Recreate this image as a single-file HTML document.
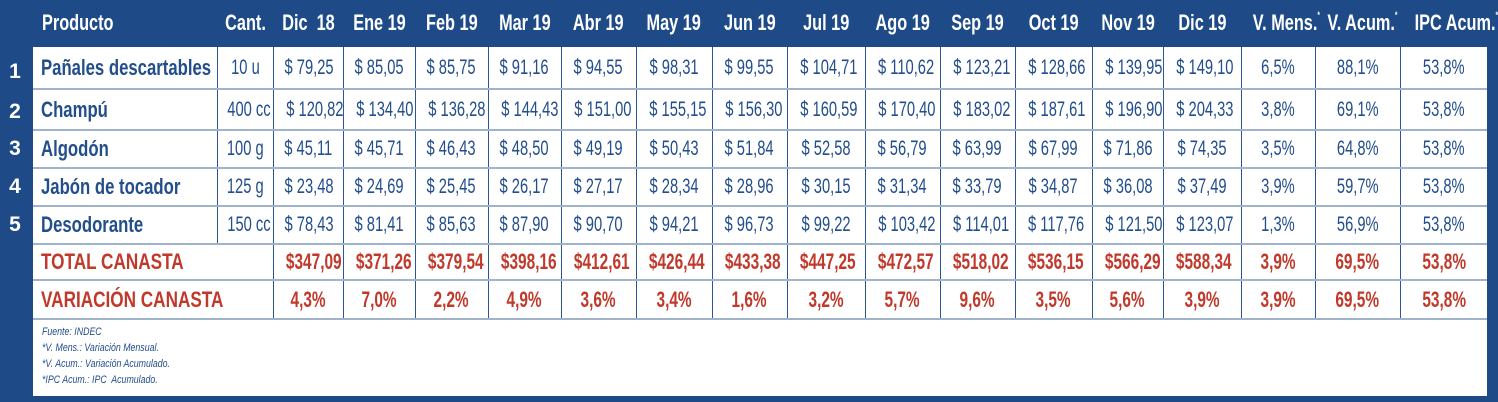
<!DOCTYPE html>
<html><head><meta charset="utf-8"><style>
*{margin:0;padding:0;box-sizing:border-box}
body{width:1498px;height:402px;background:#1e4b87;position:relative;overflow:hidden;font-family:"Liberation Sans",sans-serif}
span{display:inline-block;transform:scaleX(0.7);transform-origin:center;white-space:nowrap}
.hd{position:absolute;top:9px;height:28px;line-height:28px;color:#fff;font-weight:bold;font-size:22px;text-align:center;white-space:nowrap}
.hd span{transform:scaleX(0.74)}
.hd sup{font-size:9px;vertical-align:top;line-height:12px}
.num{position:absolute;left:0;width:30px;text-align:center;color:#fff;font-weight:bold;font-size:21px}
.white{position:absolute;left:33px;top:47px;width:1454px;height:349px;background:#fff}
table{position:absolute;left:33px;top:47px;width:1454px;border-collapse:collapse;table-layout:fixed}
td{border-left:1px solid #2a5796;border-right:1px solid #2a5796;border-bottom:2px solid #9fb3cc;text-align:center;color:#234e8c;font-size:21px;white-space:nowrap;overflow:visible;padding:0}
td.p{text-align:left;padding-left:8px;font-weight:bold;border-left:none;font-size:22px}
td.p span{transform:scaleX(0.76);transform-origin:left center}
tr.r td{color:#c0392b;font-weight:bold;font-size:22px}
tr.r td.p span{transform:scaleX(0.78)}
td.last{border-right:none}
.foot{position:absolute;left:42px;top:324px;color:#234e8c;font-style:italic;font-size:11px;line-height:16px}
.foot span{transform:scaleX(0.8);transform-origin:left center}
</style></head><body>
<div class="white"></div>
<div class="hd" style="left:42px"><span style="transform-origin:left center">Producto</span></div>
<div class="hd" style="left:217px;width:56px"><span>Cant.</span></div>
<div class="hd" style="left:273px;width:70px"><span>Dic&nbsp; 18</span></div>
<div class="hd" style="left:343px;width:72px"><span>Ene 19</span></div>
<div class="hd" style="left:415px;width:73px"><span>Feb 19</span></div>
<div class="hd" style="left:488px;width:73px"><span>Mar 19</span></div>
<div class="hd" style="left:561px;width:75px"><span>Abr 19</span></div>
<div class="hd" style="left:636px;width:76px"><span>May 19</span></div>
<div class="hd" style="left:712px;width:75px"><span>Jun 19</span></div>
<div class="hd" style="left:787px;width:78px"><span>Jul 19</span></div>
<div class="hd" style="left:865px;width:75px"><span>Ago 19</span></div>
<div class="hd" style="left:940px;width:75px"><span>Sep 19</span></div>
<div class="hd" style="left:1015px;width:77px"><span>Oct 19</span></div>
<div class="hd" style="left:1092px;width:71px"><span>Nov 19</span></div>
<div class="hd" style="left:1163px;width:78px"><span>Dic 19</span></div>
<div class="hd" style="left:1241px;width:74px"><span>V. Mens.<sup>*</sup></span></div>
<div class="hd" style="left:1315px;width:85px"><span>V. Acum.<sup>*</sup></span></div>
<div class="hd" style="left:1400px;width:87px"><span>IPC Acum.<sup>*</sup></span></div>
<div class="num" style="top:60px">1</div>
<div class="num" style="top:100px">2</div>
<div class="num" style="top:137px">3</div>
<div class="num" style="top:175px">4</div>
<div class="num" style="top:213px">5</div>
<table>
<colgroup><col style="width:184px"><col style="width:56px"><col style="width:70px"><col style="width:72px"><col style="width:73px"><col style="width:73px"><col style="width:75px"><col style="width:76px"><col style="width:75px"><col style="width:78px"><col style="width:75px"><col style="width:75px"><col style="width:77px"><col style="width:71px"><col style="width:78px"><col style="width:74px"><col style="width:85px"><col style="width:87px"></colgroup>
<tr style="height:42px"><td class="p"><span>Pañales descartables</span></td><td><span>10 u</span></td><td><span>$ 79,25</span></td><td><span>$ 85,05</span></td><td><span>$ 85,75</span></td><td><span>$ 91,16</span></td><td><span>$ 94,55</span></td><td><span>$ 98,31</span></td><td><span>$ 99,55</span></td><td><span>$ 104,71</span></td><td><span>$ 110,62</span></td><td><span>$ 123,21</span></td><td><span>$ 128,66</span></td><td><span>$ 139,95</span></td><td><span>$ 149,10</span></td><td><span>6,5%</span></td><td><span>88,1%</span></td><td class="last"><span>53,8%</span></td></tr>
<tr style="height:41px"><td class="p"><span>Champú</span></td><td><span>400 cc</span></td><td><span>$ 120,82</span></td><td><span>$ 134,40</span></td><td><span>$ 136,28</span></td><td><span>$ 144,43</span></td><td><span>$ 151,00</span></td><td><span>$ 155,15</span></td><td><span>$ 156,30</span></td><td><span>$ 160,59</span></td><td><span>$ 170,40</span></td><td><span>$ 183,02</span></td><td><span>$ 187,61</span></td><td><span>$ 196,90</span></td><td><span>$ 204,33</span></td><td><span>3,8%</span></td><td><span>69,1%</span></td><td class="last"><span>53,8%</span></td></tr>
<tr style="height:38px"><td class="p"><span>Algodón</span></td><td><span>100 g</span></td><td><span>$ 45,11</span></td><td><span>$ 45,71</span></td><td><span>$ 46,43</span></td><td><span>$ 48,50</span></td><td><span>$ 49,19</span></td><td><span>$ 50,43</span></td><td><span>$ 51,84</span></td><td><span>$ 52,58</span></td><td><span>$ 56,79</span></td><td><span>$ 63,99</span></td><td><span>$ 67,99</span></td><td><span>$ 71,86</span></td><td><span>$ 74,35</span></td><td><span>3,5%</span></td><td><span>64,8%</span></td><td class="last"><span>53,8%</span></td></tr>
<tr style="height:38px"><td class="p"><span>Jabón de tocador</span></td><td><span>125 g</span></td><td><span>$ 23,48</span></td><td><span>$ 24,69</span></td><td><span>$ 25,45</span></td><td><span>$ 26,17</span></td><td><span>$ 27,17</span></td><td><span>$ 28,34</span></td><td><span>$ 28,96</span></td><td><span>$ 30,15</span></td><td><span>$ 31,34</span></td><td><span>$ 33,79</span></td><td><span>$ 34,87</span></td><td><span>$ 36,08</span></td><td><span>$ 37,49</span></td><td><span>3,9%</span></td><td><span>59,7%</span></td><td class="last"><span>53,8%</span></td></tr>
<tr style="height:38px"><td class="p"><span>Desodorante</span></td><td><span>150 cc</span></td><td><span>$ 78,43</span></td><td><span>$ 81,41</span></td><td><span>$ 85,63</span></td><td><span>$ 87,90</span></td><td><span>$ 90,70</span></td><td><span>$ 94,21</span></td><td><span>$ 96,73</span></td><td><span>$ 99,22</span></td><td><span>$ 103,42</span></td><td><span>$ 114,01</span></td><td><span>$ 117,76</span></td><td><span>$ 121,50</span></td><td><span>$ 123,07</span></td><td><span>1,3%</span></td><td><span>56,9%</span></td><td class="last"><span>53,8%</span></td></tr>
<tr class="r" style="height:36px"><td class="p" colspan="2"><span>TOTAL CANASTA</span></td><td><span>$347,09</span></td><td><span>$371,26</span></td><td><span>$379,54</span></td><td><span>$398,16</span></td><td><span>$412,61</span></td><td><span>$426,44</span></td><td><span>$433,38</span></td><td><span>$447,25</span></td><td><span>$472,57</span></td><td><span>$518,02</span></td><td><span>$536,15</span></td><td><span>$566,29</span></td><td><span>$588,34</span></td><td><span>3,9%</span></td><td><span>69,5%</span></td><td class="last"><span>53,8%</span></td></tr>
<tr class="r" style="height:39px"><td class="p" colspan="2"><span>VARIACIÓN CANASTA</span></td><td><span>4,3%</span></td><td><span>7,0%</span></td><td><span>2,2%</span></td><td><span>4,9%</span></td><td><span>3,6%</span></td><td><span>3,4%</span></td><td><span>1,6%</span></td><td><span>3,2%</span></td><td><span>5,7%</span></td><td><span>9,6%</span></td><td><span>3,5%</span></td><td><span>5,6%</span></td><td><span>3,9%</span></td><td><span>3,9%</span></td><td><span>69,5%</span></td><td class="last"><span>53,8%</span></td></tr>
</table>
<div class="foot"><span>Fuente: INDEC</span><br><span>*V. Mens.: Variación Mensual.</span><br><span>*V. Acum.: Variación Acumulado.</span><br><span>*IPC Acum.: IPC&nbsp; Acumulado.</span></div>
</body></html>
